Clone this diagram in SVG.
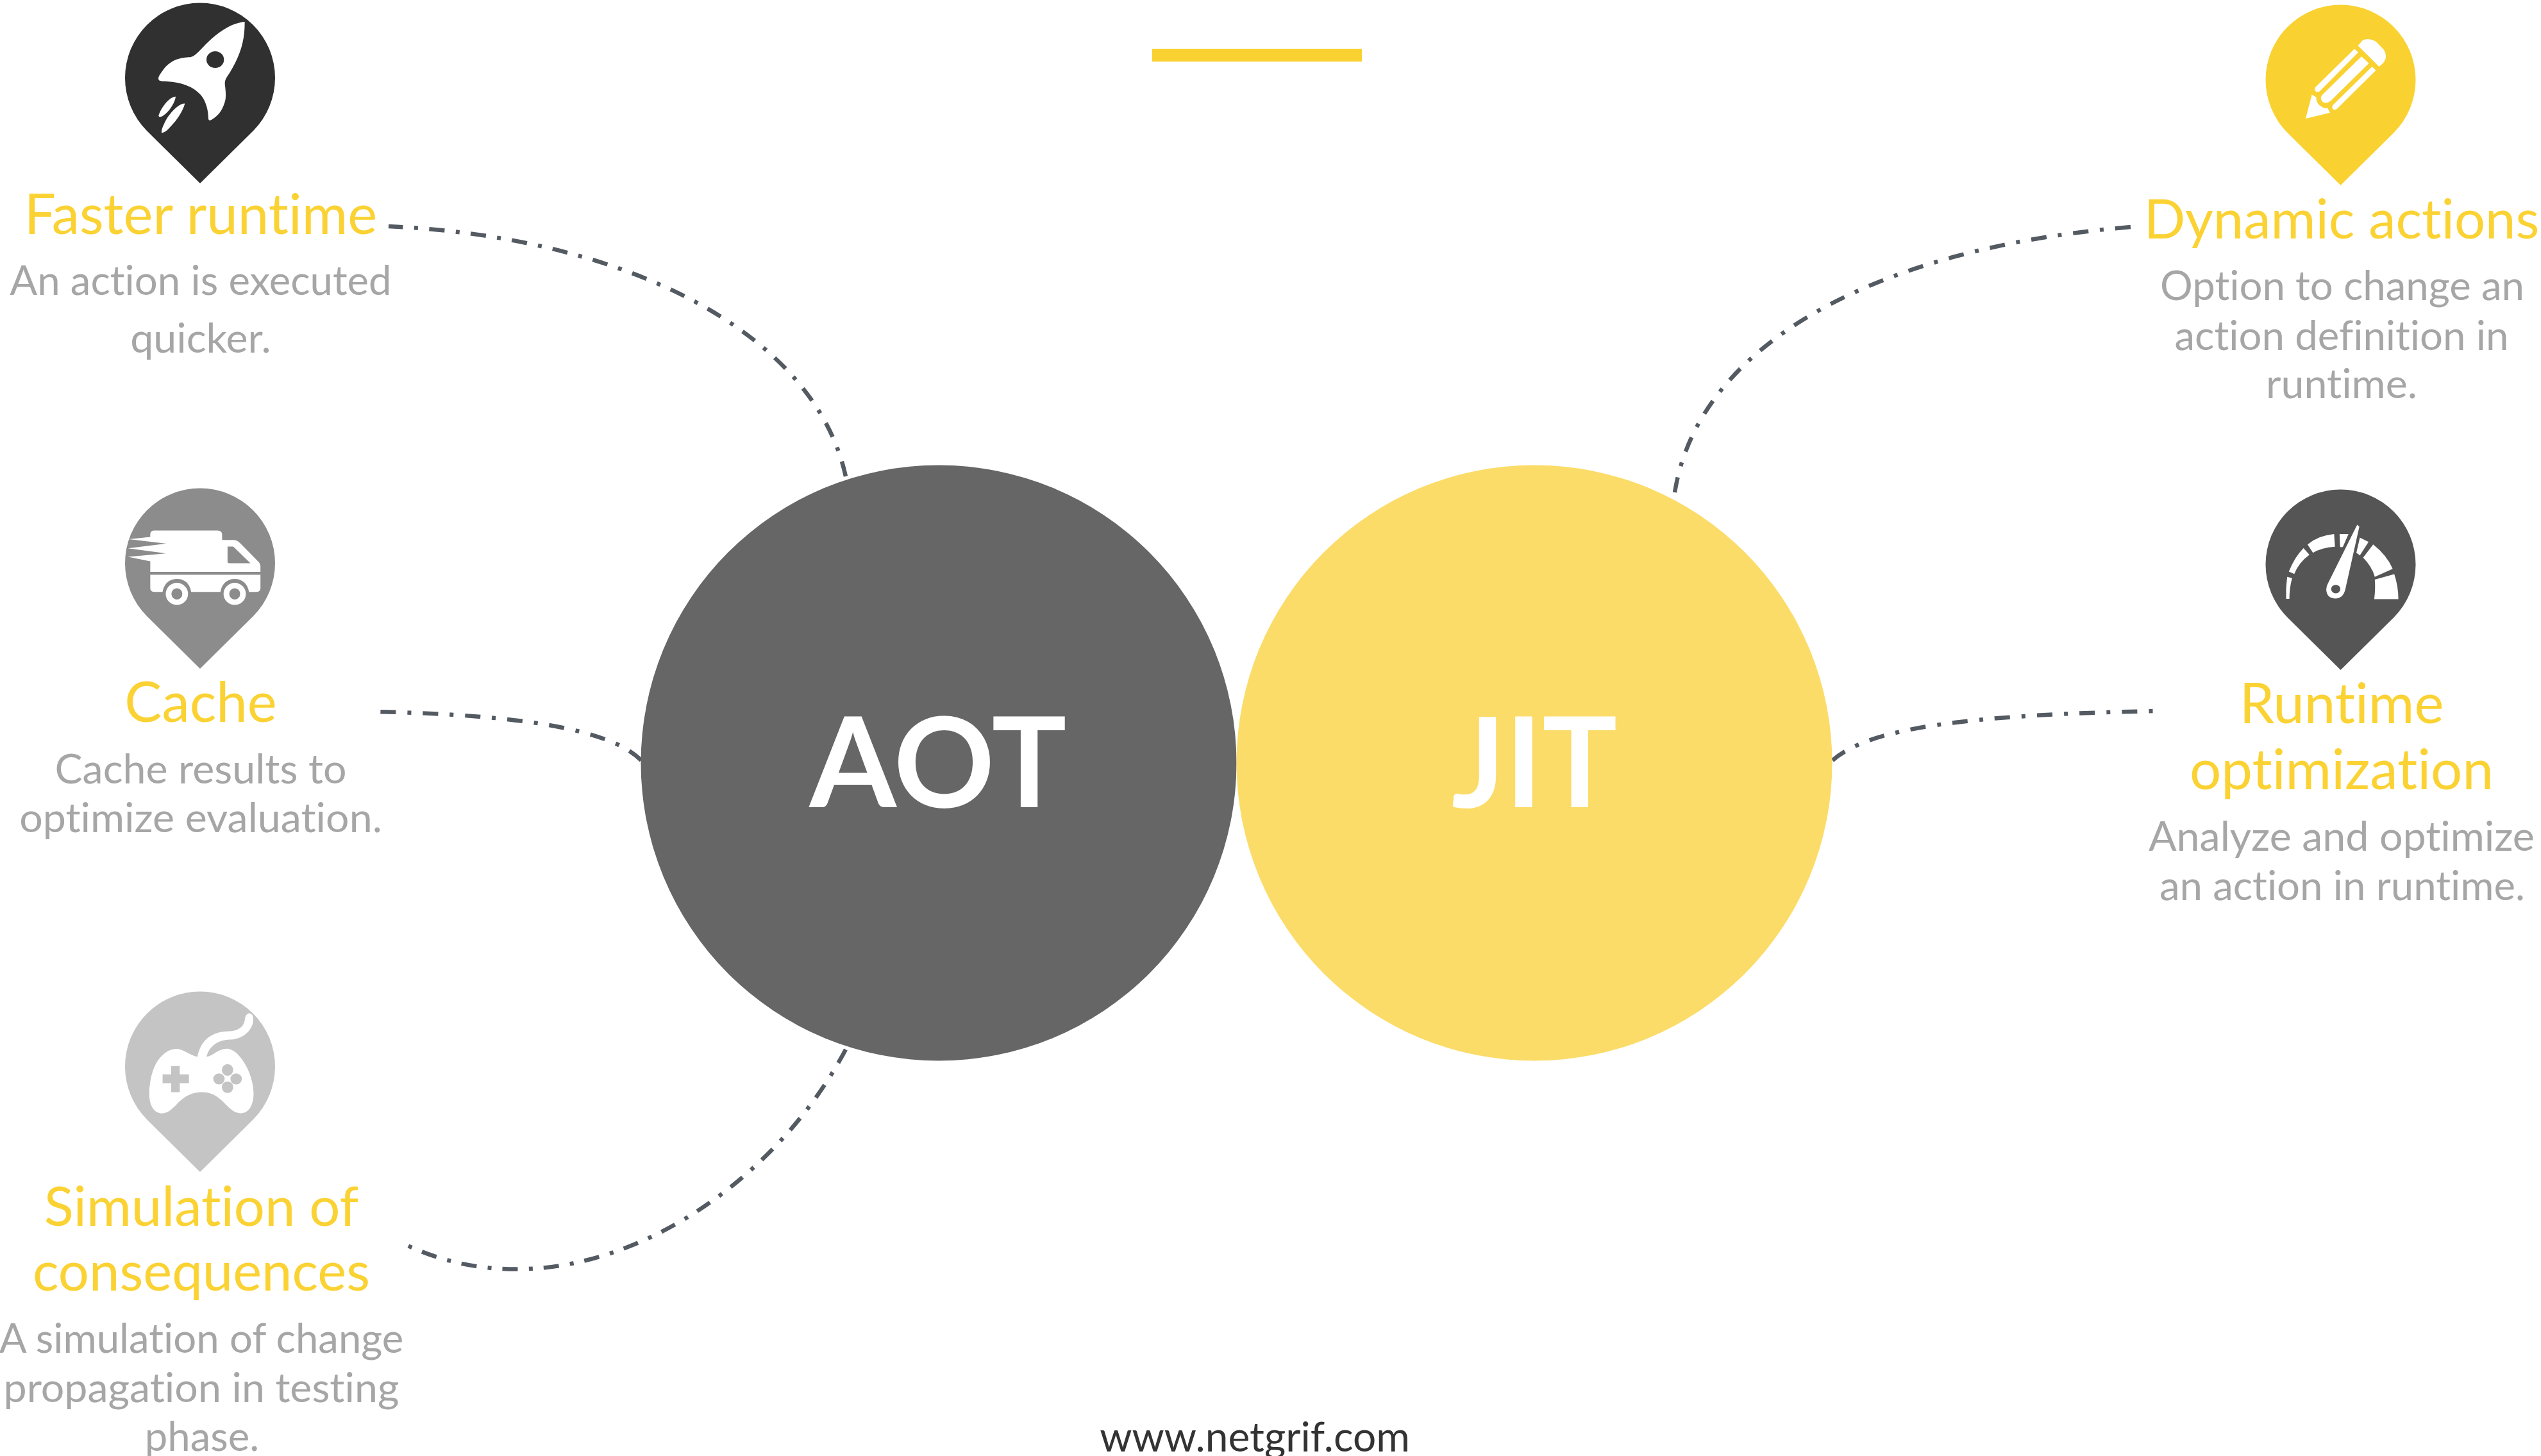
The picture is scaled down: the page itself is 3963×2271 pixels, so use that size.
<svg xmlns="http://www.w3.org/2000/svg" width="3963" height="2271" viewBox="0 0 3963 2271">
<style>
text{font-family:"Lato","Carlito","Liberation Sans",sans-serif;text-anchor:middle;font-variant-ligatures:none}
.t{font-size:85px;fill:#FBD233}
.t2{font-size:87px;fill:#FBD233}
.d{font-size:63.5px;fill:#A6A6A6}
.d2{font-size:64.5px;fill:#A6A6A6}
.big{font-size:195px;fill:#fff;font-weight:700}
.c{fill:none;stroke:#545A62;stroke-width:6.5;stroke-dasharray:24 17.5 6 17.5}
.w{fill:#fff}
</style>
<defs>
<path id="pin" d="M-83 83A117 117 0 1 1 83 83L0 165Z"/>
</defs>
<rect width="3963" height="2271" fill="#fff"/>
<rect id="bar" x="1797" y="76" width="327" height="20" fill="#F9D232"/>
<g id="connectors">
<path class="c" d="M1319 743C1270 520 980 370 606 353"/>
<path class="c" style="stroke-dasharray:24 18 6 18" d="M1000 1186C950 1135 800 1115 588 1110"/>
<path class="c" style="stroke-dasharray:24 17 6 17.4" d="M1319 1637C1190 1880 890 2060 636 1943"/>
<path class="c" style="stroke-dasharray:24 18 6 18" d="M2612 768C2650 530 2940 385 3324 354"/>
<path class="c" style="stroke-dasharray:24 18.2 6 18" d="M2858 1186C2915 1135 3070 1115 3362 1109"/>
</g>
<g id="aot"><circle cx="1464" cy="1190" r="464.5" fill="#666"/><text class="big" x="1463" y="1259">AOT</text></g>
<g id="jit"><circle cx="2393" cy="1190" r="464.5" fill="#FBDC68"/><text class="big" x="2393" y="1259">JIT</text></g>
<g id="faster-runtime">
<use href="#pin" x="312" y="121" fill="#303030"/>
<g transform="translate(170,0) scale(.3333)">
<path class="w" d="M635 102C610 104 600 110 590 112C540 130 490 170 450 210C425 235 405 262 380 268C340 268 290 278 255 325C240 345 228 362 232 372C236 382 250 380 270 381C340 385 395 405 430 445C455 475 465 520 465 555C466 565 472 565 480 560C515 540 535 510 545 465C548 440 545 420 543 400C540 380 545 372 552 360C590 305 620 240 630 175C634 150 635 125 635 102Z"/>
<ellipse cx="497" cy="279" rx="41" ry="39" fill="#303030"/>
<path class="w" d="M312 452C290 450 250 490 232 540C232 550 245 548 255 540C285 520 310 475 312 452Z"/>
<path class="w" d="M355 485C335 480 290 520 265 565C255 585 245 605 246 620C255 625 275 608 290 590C320 560 345 520 355 485Z"/>
</g>
<text class="t2" x="313" y="365">Faster runtime</text>
<text class="d" x="313" y="460">An action is executed</text>
<text class="d2" x="313" y="550">quicker.</text>
</g>
<g id="cache">
<use href="#pin" x="312" y="878" fill="#8C8C8C"/>
<g transform="translate(0,730) scale(.4464,.3827)">
<path class="w" d="M525 270Q525 255 540 255H760Q776 255 776 272V293H820Q830 295 838 305L903 382Q910 390 910 402V423H525V380L447 362L580 348L447 327L580 308L450 290L525 281Z"/>
<path d="M795 320H815L875 388H800L795 385Z" fill="#8C8C8C"/>
<path class="w" d="M525 435H910V490Q910 505 895 505H870C865 470 845 452 820 452C795 452 775 470 770 505H668C663 470 645 452 618 452C593 452 573 470 568 505H540Q525 505 525 490Z"/>
<ellipse class="w" cx="618" cy="513" rx="39" ry="45"/><ellipse cx="618" cy="513" rx="19" ry="23" fill="#8C8C8C"/>
<ellipse class="w" cx="820" cy="513" rx="39" ry="45"/><ellipse cx="820" cy="513" rx="19" ry="23" fill="#8C8C8C"/>
</g>
<text class="t2" x="313" y="1126">Cache</text>
<text class="d2" x="313" y="1222">Cache results to</text>
<text class="d2" x="313" y="1298">optimize evaluation.</text>
</g>
<g id="simulation">
<use href="#pin" x="312" y="1663" fill="#C4C4C4"/>
<g transform="translate(0,1520) scale(.4464,.4789)">
<path class="w" d="M690 268C670 265 650 250 625 243C590 238 560 265 545 290C525 325 520 370 522 400C525 435 545 455 570 452C590 450 605 435 625 415C650 393 675 383 705 383C735 383 760 395 780 415C800 435 820 452 840 452C870 452 885 425 886 390C886 340 860 285 825 255C800 235 780 240 755 253C745 260 735 265 722 268C725 250 745 215 800 212C850 212 885 180 885 145C885 130 875 125 868 127C858 130 856 140 855 150C850 175 825 185 800 185C740 185 700 215 690 268Z"/>
<path d="M598 298H628V325H660V354H628V383H598V354H568V325H598Z" fill="#C4C4C4"/>
<g fill="#C4C4C4"><ellipse cx="795" cy="311" rx="20" ry="19"/><ellipse cx="795" cy="367" rx="20" ry="19"/><ellipse cx="765" cy="340" rx="20" ry="18"/><ellipse cx="825" cy="340" rx="20" ry="18"/></g>
</g>
<text class="t" x="314" y="1912">Simulation of</text>
<text class="t" x="314" y="2013">consequences</text>
<text class="d" x="314" y="2110">A simulation of change</text>
<text class="d2" x="314" y="2187">propagation in testing</text>
<text class="d" x="315" y="2263">phase.</text>
</g>
<g id="dynamic-actions">
<use href="#pin" x="3650.5" y="124" fill="#F9D232"/>
<g transform="translate(3300,0) scale(.4228,.4146)" class="w">
<path d="M893 172L910 152Q930 140 960 157L988 187Q1005 215 985 238L971 251Z"/>
<path d="M880 184L894 197L752 343Q745 348 738 345Q730 335 736 328Z"/>
<path d="M906 212L933 238L792 380Q775 392 762 383Q752 370 760 358Z"/>
<path d="M945 251L959 265L815 410Q805 415 800 410Q795 402 801 395Z"/>
<path d="M723 356Q730 362 739 365Q738 385 752 397Q765 408 782 407Q784 416 790 424L700 446Z"/>
</g>
<text class="t" x="3652" y="372">Dynamic actions</text>
<text class="d" x="3653" y="468">Option to change an</text>
<text class="d" x="3652" y="546">action definition in</text>
<text class="d2" x="3652" y="621">runtime.</text>
</g>
<g id="runtime-optimization">
<use href="#pin" x="3650.5" y="880" fill="#555"/>
<g transform="translate(3300,730) scale(.4228,.4464)" class="w">
<path d="M628 457L628 420Q630 395 632 380L650 385Q640 420 640 457Z"/>
<path d="M638 362Q660 310 692 280L714 303Q675 330 658 370Z"/>
<path d="M707 267Q750 235 805 231L808 275Q760 278 727 296Z"/>
<path d="M825 231L858 231L837 276L827 276Z"/>
<path d="M900 243L932 258L900 305L887 296Z"/>
<path d="M949 267Q1000 305 1021 352L955 380Q945 345 912 313Z"/>
<path d="M955 390L1027 371Q1042 415 1042 458L953 458Q958 420 955 390Z"/>
<path d="M890 198L898 205L846 425Q838 455 810 456Q778 455 776 425Q776 412 784 400Z"/>
<ellipse cx="811" cy="423" rx="17" ry="15" fill="#555"/>
</g>
<text class="t2" x="3652" y="1128">Runtime</text>
<text class="t2" x="3652" y="1231">optimization</text>
<text class="d2" x="3652" y="1327">Analyze and optimize</text>
<text class="d" x="3653" y="1404">an action in runtime.</text>
</g>
<g id="footer"><text x="1957" y="2264" font-size="64" fill="#333">www.netgrif.com</text></g>
</svg>
